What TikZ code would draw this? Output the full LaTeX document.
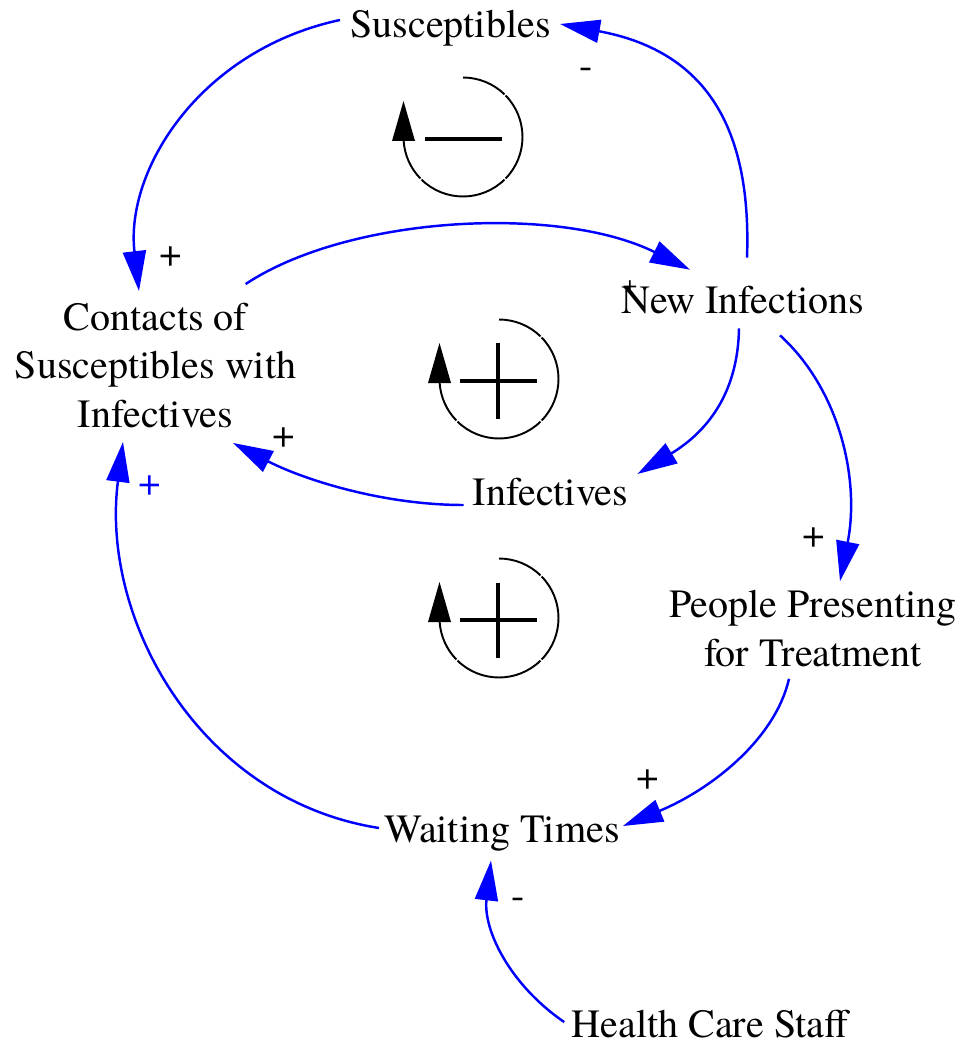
\documentclass[tikz,border=0pt]{standalone}
\usepackage{fontspec}
\setmainfont{texgyretermes}[Extension=.otf, UprightFont=*-regular, BoldFont=*-bold, ItalicFont=*-italic, BoldItalicFont=*-bolditalic]
\usetikzlibrary{arrows.meta}
\tikzset{
  varnode/.style={font=\fontsize{22.8pt}{27.4pt}\selectfont, inner sep=0pt, align=center},
  polnode/.style={font=\fontsize{22.8pt}{27.4pt}\selectfont, inner sep=0pt},
  linkarrow/.style={draw=blue, line width=1.4pt, -{Triangle[length=0.8cm,width=0.46cm]}},
  loopline/.style={line width=1.1pt},
  signline/.style={line width=2.3pt},
  loopsym/.pic={
    \draw[loopline] (90:1.19cm) arc[start angle=90,end angle=45.8,radius=1.19cm]
      (44.2:1.19cm) arc[start angle=44.2,end angle=-44.2,radius=1.19cm]
      (-45.8:1.19cm) arc[start angle=-45.8,end angle=-134.2,radius=1.19cm]
      (-135.8:1.19cm) arc[start angle=-135.8,end angle=-176,radius=1.19cm];
    \fill (-59.5,36) -- (-71,-4) -- (-48,-4) -- cycle;
  }
}
\begin{document}
\begin{tikzpicture}[x=0.02cm,y=0.02cm]
\useasboundingbox (0,0) rectangle (965,-1044);
% variables
\node[varnode] (sus) at (450.5,-28.5) {Susceptibles};
\node[varnode] (ni) at (743,-300) {New Infections};
\node[varnode] (con) at (155.5,-365.5) {Contacts of\\Susceptibles with\\Infectives};
\node[varnode] (inf) at (550.5,-492) {Infectives};
\node[varnode] (pp) at (813,-628.5) {People Presenting\\for Treatment};
\node[varnode] (wt) at (502,-833.5) {Waiting Times};
\node[varnode] (hcs) at (710,-1024) {Health Care Staff};
% links
\draw[linkarrow] ([shift={(-10,8.5)}]sus.west) .. controls (200,-50) and (125,-170) .. ([shift={(-16.5,12)}]con.north);
\draw[linkarrow] ([shift={(4,28)}]ni.north) .. controls (752,-120) and (700,-50) .. ([shift={(9,4.5)}]sus.east);
\draw[linkarrow] ([shift={(-51,19)}]con.north east) .. controls (350,-215) and (560,-205) .. ([shift={(-53,16)}]ni.north);
\draw[linkarrow] ([shift={(-4,-14)}]ni.south) .. controls (738,-390) and (710,-430) .. ([shift={(9,18)}]inf.east);
\draw[linkarrow] ([shift={(-9,-13)}]inf.west) .. controls (380,-505) and (300,-478) .. ([shift={(77.5,-15)}]con.south);
\draw[linkarrow] ([shift={(37,-21)}]ni.south) .. controls (840,-390) and (860,-480) .. ([shift={(27,9)}]pp.north);
\draw[linkarrow] ([shift={(-24,-12)}]pp.south) .. controls (775,-740) and (710,-790) .. ([shift={(3,7.5)}]wt.east);
\draw[linkarrow] ([shift={(-5,5.5)}]wt.west) .. controls (200,-800) and (100,-620) .. ([shift={(-32.5,-14)}]con.south);
\draw[linkarrow] ([shift={(-7,2)}]hcs.west) .. controls (510,-985) and (483,-930) .. ([shift={(-11,-9)}]wt.south);
% polarities
\node[polnode] (p1) at (171,-257) {+};
\node[polnode] (p2) at (586,-73) {-};
\node[polnode, font=\fontsize{14.8pt}{17pt}\selectfont] (p3) at (630,-287) {+};
\node[polnode] (p5) at (284,-438) {+};
\node[polnode, text=blue] (p8) at (150,-486) {+};
\node[polnode] (p6) at (814,-538) {+};
\node[polnode] (p7) at (648,-780) {+};
\node[polnode] (p9) at (518,-903) {-};
% loop symbols
\pic at (463,-137) {loopsym};
\draw[signline] (425,-139) -- (502,-139);
\pic at (499,-379) {loopsym};
\draw[signline] (460,-381) -- (537,-381) (498,-343) -- (498,-419);
\pic at (499,-618) {loopsym};
\draw[signline] (460,-620) -- (537,-620) (498,-583) -- (498,-658);
\end{tikzpicture}
\end{document}
